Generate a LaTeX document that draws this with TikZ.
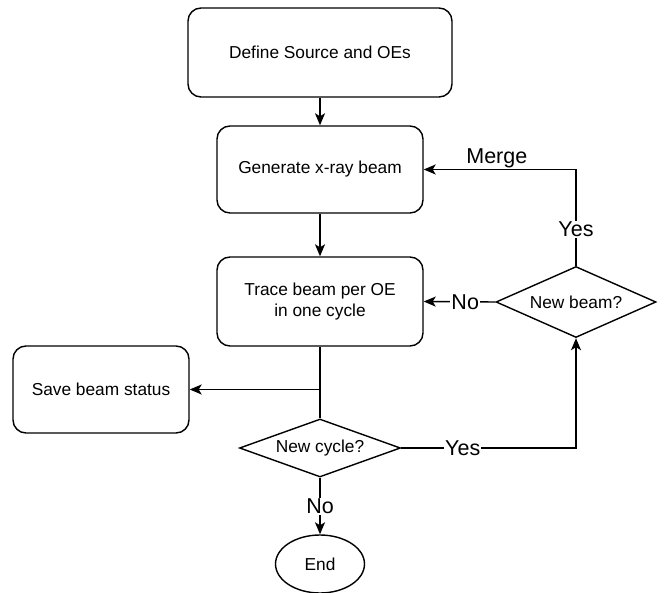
\documentclass[tikz,border=0pt]{standalone}
\usepackage{fontspec}
\setmainfont{Liberation Sans}
\usetikzlibrary{positioning}
\usetikzlibrary{shapes.geometric}
\usetikzlibrary{arrows.meta}

\tikzset{
	process/.style={rectangle, rounded corners=13pt, draw=black, line width=1.4pt, align=center, font=\fontsize{17.3}{21}\selectfont},
	decision/.style={diamond, draw=black, line width=1.4pt, inner sep=0pt, font=\fontsize{17.3}{21}\selectfont},
	terminal/.style={ellipse, draw=black, line width=1.4pt, inner sep=0pt, font=\fontsize{17.3}{21}\selectfont},
	flow/.style={line width=1.4pt, -{Stealth[length=12pt, width=10pt, inset=3pt]}},
	plain/.style={line width=1.4pt},
	lbl/.style={fill=white, inner sep=1pt, font=\fontsize{21.5}{24}\selectfont}
}

\begin{document}
\begin{tikzpicture}[x=1pt, y=-1pt]

	\useasboundingbox (0,0) rectangle (664,593);

	\node[process, minimum width=264pt, minimum height=89pt](define) at (320,52.5){Define Source and OEs};
	\node[process, minimum width=206pt, minimum height=87pt](generate) at (320,169.5){Generate x-ray beam};
	\node[process, minimum width=206pt, minimum height=89pt](trace) at (320,301.5){Trace beam per OE\\in one cycle};
	\node[process, minimum width=176pt, minimum height=87pt](save) at (101,389.5){Save beam status};

	\node[decision, aspect=2.78, minimum width=161pt, minimum height=58pt](newcycle) at (320,448){New cycle?};
	\node[decision, aspect=2.25, minimum width=160pt, minimum height=71pt](newbeam) at (576,302){New beam?};
	\node[terminal, minimum width=89pt, minimum height=58pt](end) at (320,564){End};

	\coordinate (branch) at (320,389.5);

	\draw [flow] (define.south) -- (generate.north);
	\draw [flow] (generate.south) -- (trace.north);
	\draw [plain] (trace.south) -- (newcycle.north);
	\draw [flow] (branch) -- (save.east);

	\draw [flow] (newcycle.south) -- node[lbl]{No} (end.north);
	\draw [flow] (newcycle.east) -| node[lbl, pos=0.176]{Yes} (newbeam.south);
	\draw [flow] (newbeam.west) -- node[lbl, pos=0.42]{No} (trace.east);
	\draw [flow] (newbeam.north) |- node[lbl, pos=0.19]{Yes} node[lbl, above, pos=0.76, fill=none]{Merge} (generate.east);

\end{tikzpicture}
\end{document}
